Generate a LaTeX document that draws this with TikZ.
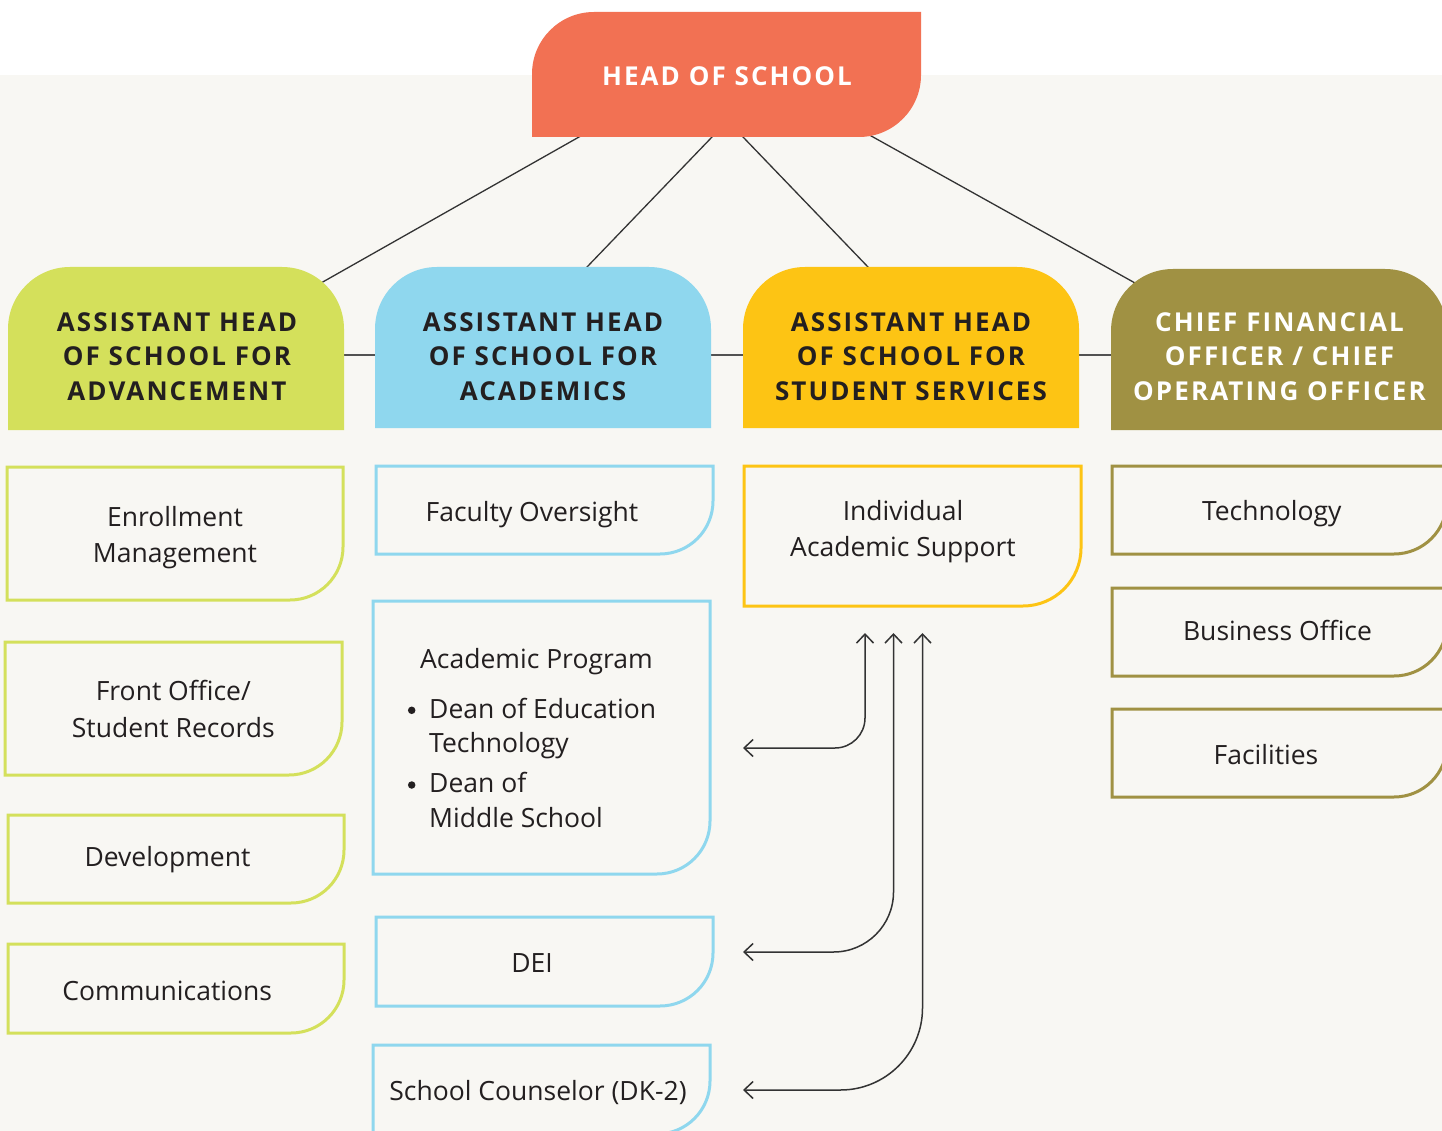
\documentclass[tikz,border=0pt]{standalone}
\usepackage{fontspec}
\setmainfont{Open Sans}
\newfontfamily\hdrfont{Open Sans}[LetterSpace=8]
\usetikzlibrary{calc,arrows.meta}
\definecolor{bgc}{HTML}{F8F7F3}
\definecolor{headc}{HTML}{F27153}
\definecolor{grc}{HTML}{D4E05B}
\definecolor{blc}{HTML}{8FD7EE}
\definecolor{ylc}{HTML}{FDC414}
\definecolor{olc}{HTML}{A09143}
\definecolor{txc}{HTML}{231F20}
\definecolor{lnc}{HTML}{333333}
% top-left + bottom-right rounded
\newcommand\mkHD[3]{\fill[#3] (#1.south west) -- ($(#1.north west)+(0,-#2)$) arc[start angle=180,end angle=90,radius=#2pt] -- (#1.north east) -- ($(#1.south east)+(0,#2)$) arc[start angle=0,end angle=-90,radius=#2pt] -- cycle;}
% both top corners rounded
\newcommand\mkTT[3]{\fill[#3] (#1.south west) -- ($(#1.north west)+(0,-#2)$) arc[start angle=180,end angle=90,radius=#2pt] -- ($(#1.north east)+(-#2,0)$) arc[start angle=90,end angle=0,radius=#2pt] -- (#1.south east) -- cycle;}
% bottom-right rounded outline
\newcommand\mkBR[3]{\draw[#3] (#1.north west) -- (#1.north east) -- ($(#1.south east)+(0,#2)$) arc[start angle=0,end angle=-90,radius=#2pt] -- (#1.south west) -- cycle;}
\tikzset{
  frame/.style={rectangle, inner sep=0pt, outer sep=0pt, draw=none},
  hdtxt/.style={inner sep=0pt, anchor=base, font=\hdrfont\bfseries\fontsize{26}{34}\selectfont, text=txc},
  bdtxt/.style={inner sep=0pt, anchor=base, font=\fontsize{26.5}{36}\selectfont, text=txc},
  bdleft/.style={bdtxt, anchor=base west},
  bullet/.style={circle, fill=txc, inner sep=0pt, minimum size=7.5pt},
  link/.style={draw=lnc, line width=1.3pt},
  hlink/.style={draw=lnc!85, line width=1.5pt},
  outl/.style={draw=#1, line width=3pt, fill=bgc},
  arr/.style={draw=lnc, line width=1.5pt, {Straight Barb[length=9pt,width=17pt]}-{Straight Barb[length=9pt,width=17pt]}},
}
\begin{document}
\begin{tikzpicture}[x=1pt,y=1pt]
\useasboundingbox (0,0) rectangle (1442,-1131);
\clip (0,0) rectangle (1442,-1131);
\fill[white] (0,0) rectangle (1442,-1131);
\fill[bgc] (0,-75) rectangle (1442,-1131);

% frames of the top two levels
\node[frame, minimum width=389pt, minimum height=125pt] (head) at (726.5,-74.5) {};
\node[frame, minimum width=336pt, minimum height=163pt] (adv) at (176,-348.5) {};
\node[frame, minimum width=336pt, minimum height=161pt] (aca) at (543,-347.5) {};
\node[frame, minimum width=336pt, minimum height=161pt] (stu) at (911,-347.5) {};
\node[frame, minimum width=336pt, minimum height=161pt] (cfo) at (1279,-349.5) {};

% connectors head -> assistants
\coordinate (h1) at ($(head.south west)+(47,0)$);
\coordinate (a1) at ($(adv.north east)+(-23,-16)$);
\coordinate (h2) at ($(head.south west)+(180,0)$);
\coordinate (a2) at ($(aca.north west)+(212,0)$);
\coordinate (h3) at ($(head.south west)+(211,0)$);
\coordinate (a3) at ($(stu.north west)+(125,0)$);
\coordinate (h4) at ($(head.south west)+(341,0)$);
\coordinate (a4) at ($(cfo.north west)+(24,-14)$);
\draw[link] ($(a1)!1.08!(h1)$) -- ($(h1)!1.08!(a1)$);
\draw[link] ($(a2)!1.08!(h2)$) -- ($(h2)!1.08!(a2)$);
\draw[link] ($(a3)!1.08!(h3)$) -- ($(h3)!1.08!(a3)$);
\draw[link] ($(a4)!1.08!(h4)$) -- ($(h4)!1.08!(a4)$);

% horizontal links between assistants
\coordinate (hl) at (0,-355);
\draw[hlink] (adv.east |- hl) -- (aca.west |- hl);
\draw[hlink] (aca.east |- hl) -- (stu.west |- hl);
\draw[hlink] (stu.east |- hl) -- (cfo.west |- hl);

% shapes
\mkHD{head}{62}{headc}
\mkTT{adv}{62}{grc}
\mkTT{aca}{62}{blc}
\mkTT{stu}{62}{ylc}
\mkTT{cfo}{62}{olc}

% header texts
\node[hdtxt, text=white] (head-t) at (727,-86) {HEAD OF SCHOOL};
\node[hdtxt] (adv-t1) at (177,-331) {ASSISTANT HEAD};
\node[hdtxt] (adv-t2) at (177,-365.5) {OF SCHOOL FOR};
\node[hdtxt] (adv-t3) at (177,-400) {ADVANCEMENT};
\node[hdtxt] (aca-t1) at (543,-331) {ASSISTANT HEAD};
\node[hdtxt] (aca-t2) at (543,-365.5) {OF SCHOOL FOR};
\node[hdtxt] (aca-t3) at (543,-400) {ACADEMICS};
\node[hdtxt] (stu-t1) at (911,-331) {ASSISTANT HEAD};
\node[hdtxt] (stu-t2) at (911,-365.5) {OF SCHOOL FOR};
\node[hdtxt] (stu-t3) at (911,-400) {STUDENT SERVICES};
\node[hdtxt, text=white] (cfo-t1) at (1279.5,-331) {CHIEF FINANCIAL};
\node[hdtxt, text=white] (cfo-t2) at (1279.5,-365.5) {OFFICER / CHIEF};
\node[hdtxt, text=white] (cfo-t3) at (1279.5,-400) {OPERATING OFFICER};

% body boxes
\node[frame, minimum width=336pt, minimum height=133pt] (enr) at (175,-533.5) {};
\node[frame, minimum width=337pt, minimum height=133pt] (fro) at (173.5,-708.5) {};
\node[frame, minimum width=336pt, minimum height=88pt] (dev) at (176,-859) {};
\node[frame, minimum width=336pt, minimum height=89pt] (com) at (176,-988.5) {};
\node[frame, minimum width=337pt, minimum height=88pt] (fac) at (544.5,-510) {};
\node[frame, minimum width=337pt, minimum height=273pt] (acp) at (541.5,-737.5) {};
\node[frame, minimum width=337pt, minimum height=89pt] (dei) at (544.5,-961.5) {};
\node[frame, minimum width=337pt, minimum height=89pt] (sc) at (541.5,-1089.5) {};
\node[frame, minimum width=337pt, minimum height=140pt] (ias) at (912.5,-536) {};
\node[frame, minimum width=335pt, minimum height=88pt] (tec) at (1279.5,-510) {};
\node[frame, minimum width=335pt, minimum height=88pt] (bus) at (1279.5,-632) {};
\node[frame, minimum width=335pt, minimum height=88pt] (fcl) at (1279.5,-753) {};

\mkBR{enr}{53}{outl=grc}
\mkBR{fro}{53}{outl=grc}
\mkBR{dev}{53}{outl=grc}
\mkBR{com}{53}{outl=grc}
\mkBR{fac}{53}{outl=blc}
\mkBR{acp}{53}{outl=blc}
\mkBR{dei}{53}{outl=blc}
\mkBR{sc}{53}{outl=blc}
\mkBR{ias}{58}{outl=ylc}
\mkBR{tec}{53}{outl=olc}
\mkBR{bus}{53}{outl=olc}
\mkBR{fcl}{53}{outl=olc}

% body texts
\node[bdtxt] (enr-t1) at (175,-526) {Enrollment};
\node[bdtxt] (enr-t2) at (175,-562) {Management};
\node[bdtxt] (fro-t1) at (173.3,-700.7) {Front Office/};
\node[bdtxt] (fro-t2) at (173.3,-737.3) {Student Records};
\node[bdtxt] (dev-t) at (167.5,-866.7) {Development};
\node[bdtxt] (com-t) at (167.2,-1000) {Communications};
\node[bdtxt] (fac-t) at (532,-521.5) {Faculty Oversight};
\node[bdleft] (acp-t0) at (420,-668) {Academic Program};
\node[bullet] (acp-b1) at (411.7,-710.3) {};
\node[bdleft] (acp-t1) at (429,-718) {Dean of Education};
\node[bdleft] (acp-t2) at (429,-752.7) {Technology};
\node[bullet] (acp-b2) at (411.7,-785) {};
\node[bdleft] (acp-t3) at (429,-792.7) {Dean of};
\node[bdleft] (acp-t4) at (429,-827.3) {Middle School};
\node[bdtxt] (dei-t) at (532,-972.3) {DEI};
\node[bdtxt] (sc-t) at (538,-1100) {School Counselor (DK-2)};
\node[bdtxt] (ias-t1) at (903,-520) {Individual};
\node[bdtxt] (ias-t2) at (903,-556.7) {Academic Support};
\node[bdtxt] (tec-t) at (1271.7,-520) {Technology};
\node[bdtxt] (bus-t) at (1277.5,-640.7) {Business Office};
\node[bdtxt] (fcl-t) at (1266,-764.3) {Facilities};

% support arrows
\coordinate (t1) at ($(ias.south west)+(121,-27)$);
\coordinate (e1) at ($(acp.east)+(33,-10.5)$);
\coordinate (t2) at ($(ias.south west)+(149.5,-27)$);
\coordinate (e2) at ($(dei.east)+(30,9.5)$);
\coordinate (t3) at ($(ias.south west)+(178.5,-27)$);
\coordinate (e3) at ($(sc.east)+(33,-0.5)$);
\draw[arr, rounded corners=30pt] (t1) |- (e1);
\draw[arr, rounded corners=60pt] (t2) |- (e2);
\draw[arr, rounded corners=82pt] (t3) |- (e3);
\end{tikzpicture}
\end{document}
